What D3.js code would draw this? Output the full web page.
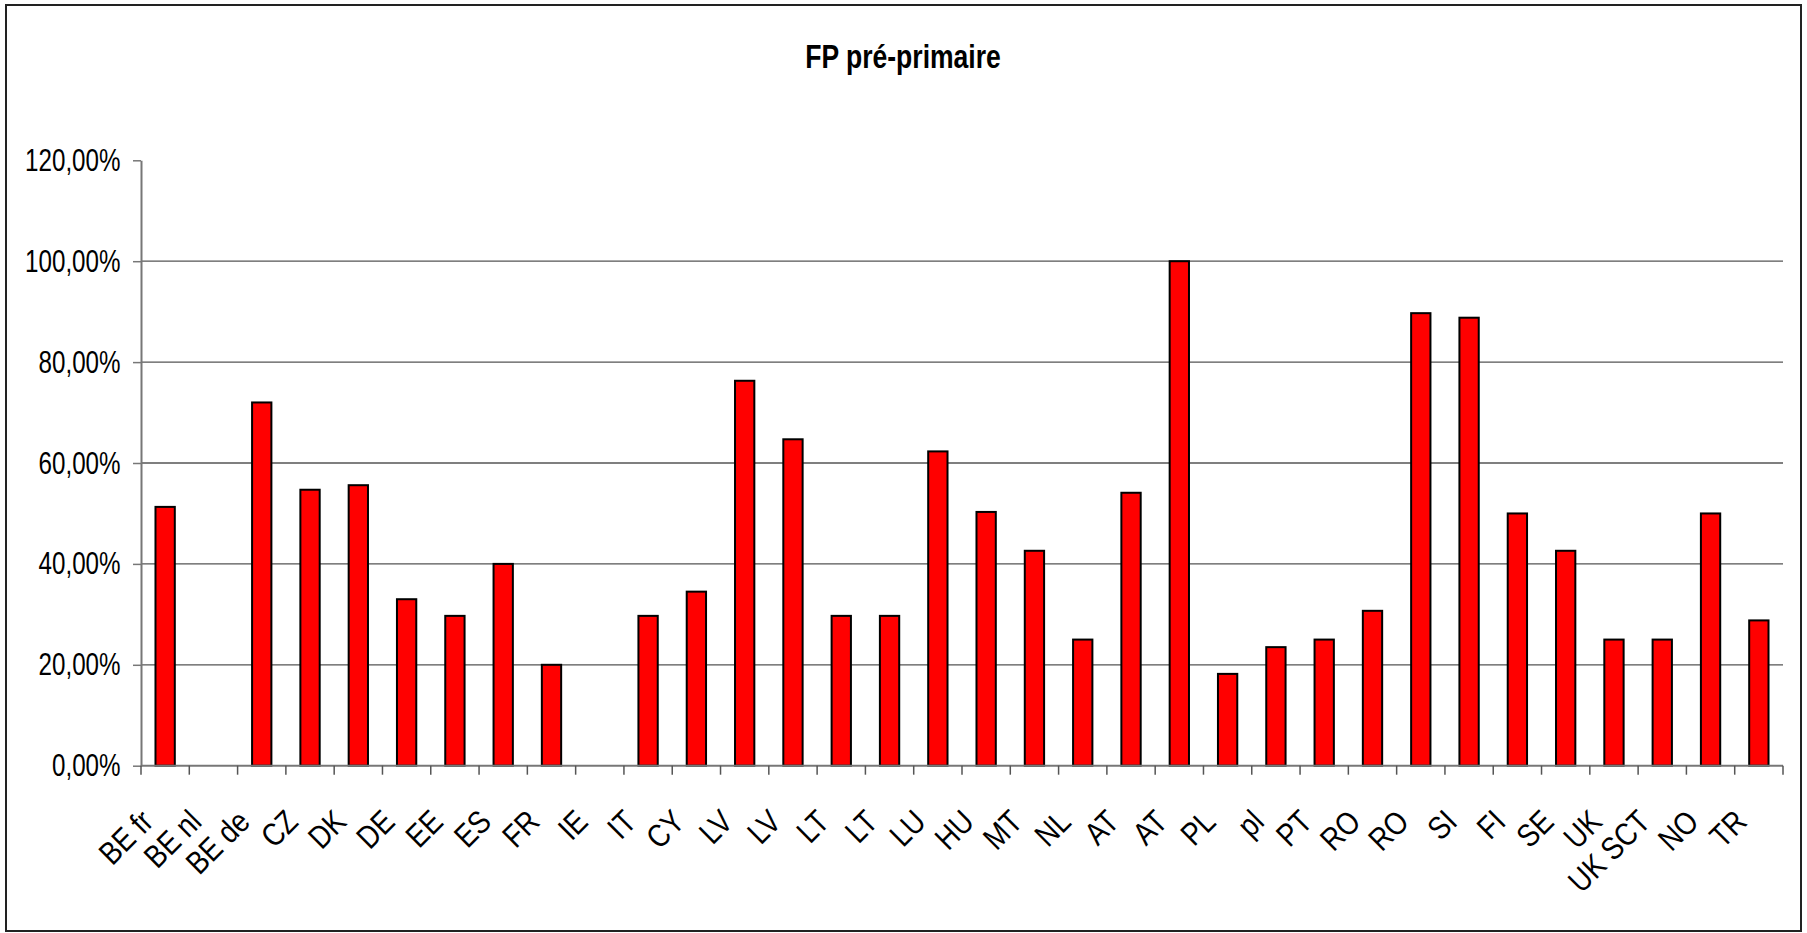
<!DOCTYPE html>
<html>
<head>
    <meta charset="utf-8" />
    <title>FP pré-primaire</title>
    <style>
        body { margin: 0; background: #fff; }
        text { font-family: "Liberation Sans", Arial, sans-serif; fill: #000; }
    </style>
</head>
<body>
    <div id="chart"></div>

    <script src="https://d3js.org/d3.v7.min.js"></script>
    <script>
        // data (null = no bar)
        const countries = ["BE fr", "BE nl", "BE de", "CZ", "DK", "DE", "EE", "ES", "FR", "IE",
            "IT", "CY", "LV", "LV", "LT", "LT", "LU", "HU", "MT", "NL",
            "AT", "AT", "PL", "pl", "PT", "RO", "RO", "SI", "FI", "SE",
            "UK", "UK SCT", "NO", "TR"];
        const shares = [0.513, null, 0.72, 0.547, 0.556, 0.33, 0.297, 0.40, 0.20, null,
            0.297, 0.345, 0.763, 0.647, 0.297, 0.297, 0.623, 0.503, 0.426, 0.25,
            0.541, 1.00, 0.182, 0.235, 0.25, 0.307, 0.897, 0.888, 0.50, 0.426,
            0.25, 0.25, 0.50, 0.288];
        const yTicks = [0, 0.2, 0.4, 0.6, 0.8, 1.0, 1.2];
        const chartTitle = "FP pré-primaire";

        let width = 1807;
        let height = 933;
        let plot = { left: 141, right: 1783, top: 160.3, bottom: 765.7 };
        const squeeze = 0.78; // the original lettering is narrow

        const fr = d3.formatLocale({ decimal: ",", thousands: " ", grouping: [3], currency: ["", " €"] });
        const pct = fr.format(".2%");

        let svg = d3.select("#chart")
            .append("svg")
            .attr("width", width)
            .attr("height", height);

        // outer frame
        svg.append("rect")
            .attr("x", 6).attr("y", 5)
            .attr("width", 1795).attr("height", 926)
            .attr("fill", "none")
            .attr("stroke", "#222")
            .attr("stroke-width", 2);

        svg.append("text")
            .attr("transform", `translate(903,68) scale(${squeeze},1)`)
            .attr("text-anchor", "middle")
            .style("font-size", "34px")
            .style("font-weight", "bold")
            .text(chartTitle);

        let x = d3.scaleBand()
            .domain(countries.map((d, i) => i))
            .range([plot.left, plot.right])
            .paddingInner(0.6)
            .paddingOuter(0.3);

        let y = d3.scaleLinear()
            .domain([0, 1.2])
            .range([plot.bottom, plot.top]);

        // gridlines
        svg.append("g")
            .selectAll("line")
            .data(yTicks.filter(d => d > 0 && d < 1.2))
            .enter()
            .append("line")
            .attr("x1", plot.left).attr("x2", plot.right)
            .attr("y1", d => y(d)).attr("y2", d => y(d))
            .attr("stroke", "#555")
            .attr("stroke-width", 1.3);

        // bars
        svg.append("g")
            .selectAll("rect")
            .data(shares.map((v, i) => ({ i: i, v: v })).filter(d => d.v !== null))
            .enter()
            .append("rect")
            .attr("x", d => x(d.i))
            .attr("y", d => y(d.v))
            .attr("width", x.bandwidth())
            .attr("height", d => y(0) - y(d.v))
            .attr("fill", "#ff0000")
            .attr("stroke", "#000")
            .attr("stroke-width", 2);

        // y axis
        let yAxis = svg.append("g")
            .attr("transform", `translate(${plot.left},0)`)
            .call(d3.axisLeft(y).tickValues(yTicks).tickFormat(pct).tickSize(8).tickSizeOuter(0));
        yAxis.select(".domain").attr("stroke", "#777").attr("stroke-width", 2);
        yAxis.selectAll(".tick line").attr("stroke", "#777").attr("stroke-width", 1.5);
        yAxis.selectAll(".tick text")
            .attr("x", null).attr("dy", null)
            .attr("transform", `translate(-20.5,10) scale(${squeeze},1)`)
            .attr("text-anchor", "end")
            .attr("fill", "#000")
            .style("font-family", "'Liberation Sans', Arial, sans-serif")
            .style("font-size", "31px");

        // x axis line and tick marks at the category boundaries
        svg.append("line")
            .attr("x1", plot.left).attr("x2", plot.right)
            .attr("y1", y(0)).attr("y2", y(0))
            .attr("stroke", "#777").attr("stroke-width", 2);

        svg.append("g")
            .selectAll("line")
            .data(d3.range(countries.length + 1))
            .enter()
            .append("line")
            .attr("x1", d => plot.left + d * x.step())
            .attr("x2", d => plot.left + d * x.step())
            .attr("y1", y(0)).attr("y2", y(0) + 9)
            .attr("stroke", "#555").attr("stroke-width", 1.5);

        // category labels, slanted
        let xAxis = svg.append("g")
            .attr("transform", `translate(0,${y(0)})`)
            .call(d3.axisBottom(x).tickFormat(i => countries[i]).tickSize(0));
        xAxis.select(".domain").remove();
        xAxis.selectAll(".tick text")
            .attr("y", null).attr("dy", null)
            .attr("transform", `translate(${-x.bandwidth() / 2 - 0.5},58) rotate(-45) scale(0.85,1)`)
            .attr("text-anchor", "end")
            .attr("fill", "#000")
            .style("font-family", "'Liberation Sans', Arial, sans-serif")
            .style("font-size", "32px");
    </script>
</body>
</html>
